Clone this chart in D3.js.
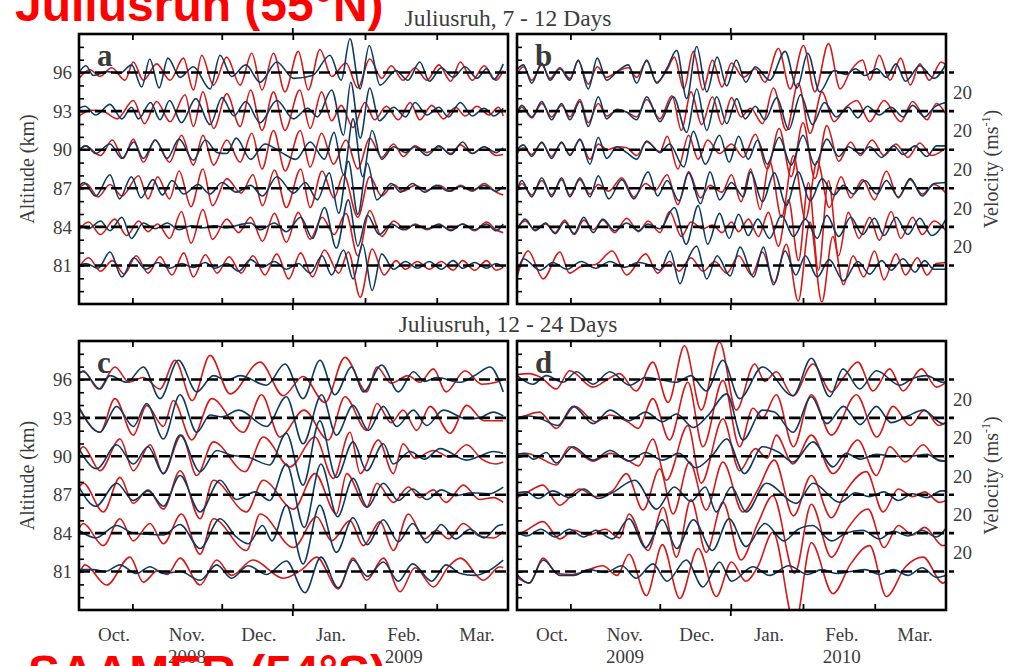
<!DOCTYPE html>
<html>
<head>
<meta charset="utf-8">
<script src="https://cdn.jsdelivr.net/npm/d3@7"></script>
<style>
  body { margin: 0; background: #fff; }
  svg { display: block; }
</style>
</head>
<body>
<svg id="chart" width="1013" height="666"></svg>
<script>
// Altitude levels (km) of the six wind series in every panel
const levels = [96, 93, 90, 87, 84, 81];

// Time axis: day 0 = 1 October, day 180 = end of March
const monthLabels = ["Oct.", "Nov.", "Dec.", "Jan.", "Feb.", "Mar."];
const monthLabelDays = [14.7, 45.3, 75.5, 105.7, 136.3, 167];
const tickDays = [22.4, 59.9, 89.7, 120, 150.1];
const yearTickDay = 89.7;
const yearsWinter1 = ["2008", "2009"];
const yearsWinter2 = ["2009", "2010"];

// Filtered wind perturbations, [day, m/s] at the turning points of each trace.
// Order of the inner arrays follows `levels`.
// (a) Juliusruh 2008/09, 7-12 day band
const aRed = [
  [[0,-6],[4.6,3],[8.8,-4],[13.7,5],[19.3,-8],[22.8,11],[27,-8],[32.6,9],[38.2,-8],[43.8,15],[48,-18],[51.5,18],[56.4,-13],[62,16],[67.6,-13],[72.5,20],[76.8,-18],[81.6,20],[86.4,-20],[92,22],[96.2,-18],[101.1,24],[106,-4],[112,10],[117,-16],[122,14],[127,-6],[131,7],[136,-8],[141,5],[146,-8],[151,8],[156,-9],[160,11],[165,-8],[170,7],[175,-8],[178,2]],
  [[0,-5],[5,1],[10,0],[16,-8],[22.8,11],[27.5,-13],[32.6,10],[38.2,-11],[44.5,17],[48,-16],[52,20],[56.5,-18],[62,18],[67.6,-16],[72,22],[76.8,-20],[81.6,20],[86.4,-20],[92.6,22],[97,-18],[101.8,20],[106,-10],[110,6],[115,-17],[120,9],[124,-9],[129,5],[134,-9],[139,9],[143,-9],[148,6],[153,-8],[158,4],[162,-5],[167,5],[172,-4],[176,4],[178,-5]],
  [[0,-2],[2.5,4],[9,-6],[14,10],[18.5,-9],[22.8,11],[27,-13],[32,10],[38,-13],[43,15],[48,-16],[52,15],[56.5,-16],[62,10],[67.6,-13],[72.5,17],[76.8,-20],[81.6,20],[86.5,-22],[92.8,20],[97,-18],[101.8,17],[106.8,-15],[112,10],[117,-20],[122,12],[127,-8],[132,6],[136,-7],[141,4],[146,-3],[151,3],[156,-4],[160,5],[165,-4],[170,3],[175,-6],[178,-5]],
  [[0,0],[3,5],[8,-9],[13,4],[18,-8],[25,13],[29,-11],[33,12],[38,-11],[42,18],[47,-19],[52,20],[56,-18],[62,10],[68,-5],[73,14],[77,-18],[82,19],[87,-20],[93,20],[97,-20],[102,18],[107,-10],[111,14],[117,-30],[122,12],[127,-8],[132,4],[136,-3],[141,3],[146,-2],[151,3],[156,-3],[160,3],[165,-3],[170,5],[175,-4],[178,-7]],
  [[0,-3],[4,5],[9,-8],[15,8],[20,-9],[25,6],[29,-5],[33,3],[38,-12],[43,16],[47,-17],[52,18],[56,-13],[62,8],[67,-6],[72,10],[77,-15],[82,14],[87,-16],[92,15],[97,-13],[102,10],[107,-8],[112,14],[117,-30],[122,17],[127,-10],[132,6],[137,-3],[141,3],[146,-3],[151,2],[156,-3],[161,3],[166,-4],[171,5],[175,-3],[178,-6]],
  [[0,-2],[4,8],[9,-6],[14,5],[19,-9],[24,10],[29,-8],[34,9],[39,-10],[44,13],[48,-12],[53,11],[58,-8],[63,9],[68,-8],[73,10],[78,-10],[83,12],[88,-14],[93,13],[98,-12],[103,16],[109,-8],[113,14],[118,-33],[123,17],[128,-10],[133,5],[137,-4],[142,4],[147,-4],[152,4],[157,-5],[161,5],[166,-5],[171,5],[175,-5],[178,-2]]
];
const aBlue = [
  [[0,0],[2.9,7],[6,-3],[12,1],[17,-1],[22.1,8],[26.3,-15],[29.7,14],[33.6,-16],[37.3,15],[42.4,-5],[48,6],[55,-17],[59.2,18],[64,-4],[70,8],[76,-10],[83,11],[90,-6],[98,-3],[105.3,18],[110,-8],[113.7,35],[117.9,-17],[121.8,28],[126.3,-13],[133,2],[138,-8],[143,11],[147,-9],[152,5],[157,-5],[162,6],[167,-6],[171,4],[174,-7],[178,9]],
  [[0,3],[2.5,5],[7,-4],[13,7],[18,-8],[22,4],[25,-8],[30,9],[34,-9],[38,11],[43,-12],[49,13],[55,-14],[60,14],[65,-5],[70,10],[76,-12],[83,11],[90,-8],[96,3],[100,-6],[106,22],[111,-25],[114,30],[118,-28],[122,24],[126,-10],[132,4],[137,-6],[141,9],[146,-4],[151,4],[155,-6],[160,9],[165,-5],[170,3],[174,-5],[178,3]],
  [[0,0],[3,4],[7,-4],[13,6],[18,-9],[23,8],[27,-9],[32,10],[37,-9],[42,11],[48,-11],[53,10],[58,-3],[62,-4],[66,12],[72,-10],[78,6],[85,-3],[91,-10],[97,8],[103,-10],[107,18],[111,-26],[115,32],[119,-28],[123,20],[127,-10],[132,3],[137,-3],[141,3],[146,-6],[151,4],[156,-5],[161,8],[165,-4],[170,3],[175,-3],[178,2]],
  [[0,2],[2,6],[7,-8],[13,14],[17,-11],[22,12],[26,-10],[31,9],[35,-7],[39,8],[44,-6],[50,4],[55,-6],[60,6],[66,-4],[72,3],[77,-8],[83,12],[90,-5],[95,6],[100,-12],[105,16],[109,-26],[113,28],[117,-27],[121,26],[125,-12],[131,5],[135,-4],[140,5],[145,-4],[150,3],[155,-3],[160,2],[165,-2],[170,3],[175,-3],[178,2]],
  [[0,2],[4,-2],[9,6],[13,-4],[18,10],[22,-12],[27,4],[32,-2],[37,4],[42,-3],[47,1],[52,-1],[57,1],[62,-1],[67,2],[72,4],[76,-3],[82,4],[87,-5],[93,10],[98,-12],[103,20],[108,-22],[113,28],[117,-20],[121,12],[126,-8],[131,3],[136,-3],[141,2],[146,-2],[151,3],[156,-4],[161,3],[166,-3],[171,3],[175,-4],[178,3]],
  [[0,0],[3,2],[8,-3],[13,14],[18,-12],[23,8],[28,-4],[33,3],[38,-3],[43,2],[48,-2],[53,3],[57,-3],[62,2],[67,-6],[72,6],[77,-2],[82,4],[87,-4],[92,2],[97,-8],[102,10],[106,-10],[111,16],[115,-14],[119,22],[123,-26],[127,12],[132,-4],[137,4],[142,-3],[147,4],[152,-4],[157,5],[161,-3],[166,3],[171,-3],[175,2],[178,-2]]
];

// (b) Juliusruh 2009/10, 7-12 day band
const bRed = [
  [[0,-2],[2.7,6],[6.2,-8],[10.4,8],[13.8,-6],[18,5],[22.2,-6],[25.7,12],[29.9,-12],[33.7,6],[37.6,-5],[42,1],[46.7,5],[50.2,-5],[54.4,12],[58.6,-10],[63,3],[66,16],[70,-17],[74,22],[78,-18],[82,13],[86,-15],[90,10],[95,-5],[100,4],[104,-10],[109.7,25],[114.6,-17],[120.2,28],[125,-20],[130.7,30],[135.6,-17],[140,2],[145,13],[148,-8],[152,18],[156.5,-8],[161,15],[165,-13],[169,9],[173,-8],[178,11],[180,8]],
  [[0,-3],[2,4],[6.2,-7],[10.4,8],[14.5,-6],[18.7,6],[22.2,-6],[26.4,12],[29.9,-12],[34.1,8],[37.6,-5],[42,1],[46,-1],[50.2,-6],[54.4,12],[60,-8],[65,16],[69,-20],[73,20],[77.5,-14],[82,15],[86,-14],[90,14],[94,-6],[98,3],[103,-13],[107.6,24],[113,-20],[118,29],[123,-23],[128,20],[133,-11],[138,4],[142.6,11],[148,-11],[154,11],[161,-11],[166,10],[172,-9],[176,8],[180,-3]],
  [[0,-4],[2.7,2],[6.2,-5],[10.4,7],[14.5,-7],[18.7,7],[22.2,-5],[26.4,10],[30.6,-10],[34.1,6],[38,0],[42,3],[46,2],[50.2,-6],[54.4,8],[60,-2],[63,14],[67.5,-20],[72,15],[76,-10],[80,10],[85,-4],[90,6],[95,-8],[100,16],[105,-20],[110,22],[115,-28],[120,28],[125,-30],[130,25],[135,-12],[140,8],[144,-6],[149,10],[154,-6],[159,6],[164,-8],[169,7],[174,-6],[180,2]],
  [[0,-4],[2,5],[6.2,-7],[10.4,8],[14.5,-7],[18.7,9],[22.2,-7],[26.4,9],[30.6,-6],[34.1,4],[38.5,-3],[44,11],[49,-9],[54,5],[58,-2],[63,14],[67.5,-17],[72,17],[77,-10],[81,3],[86,-4],[90,14],[94,-14],[98,20],[102,-22],[106,28],[111,-30],[116,34],[121,-32],[126,28],[131,-20],[136,12],[140,-10],[145,9],[150,-12],[155,18],[160,-10],[165,9],[170,-6],[175,4],[180,-5]],
  [[0,-2],[3.4,6],[7.6,-3],[12,3],[16,-6],[20,7],[24,-8],[28,7],[32,-3],[36,7],[41,-6],[46,9],[51,-5],[55,6],[60,-6],[64,16],[69,-10],[73,5],[78,-2],[82,2],[86,-6],[90,5],[93,-5],[97.1,8],[101.3,-10],[105.5,15],[109.7,-20],[113.9,28],[118.1,-35],[122.3,46],[126.5,-45],[130.7,48],[134.9,-30],[139,15],[143.5,-12],[148,10],[152,-14],[157,16],[161,-12],[166,10],[170,-8],[175,6],[180,-4]],
  [[0,-12],[4.7,15],[11,-14],[18,14],[22,-8],[27,-1],[33,1],[40,15],[46,-10],[54,12],[59,-8],[64,4],[68,-6],[73,8],[78,-6],[83,4],[88,-8],[93,10],[98.5,-10],[103,14],[108,-18],[113,22],[118,-37],[122.9,45],[127.9,-38],[132.5,30],[137,-20],[141,10],[145.5,-12],[150,15],[154,-15],[159,12],[163,-10],[168,8],[172,-10],[176,2],[180,3]]
];
const bBlue = [
  [[0,3],[2.7,8],[6.2,-11],[10.4,10],[13.8,-8],[18,4],[22.2,-8],[25.7,13],[29.9,-17],[33.7,15],[37.6,-8],[42,1],[46.7,8],[50.2,-11],[54.4,13],[58.6,-11],[63,5],[67,23],[71.2,-27],[75.4,27],[79.6,-20],[84,16],[88,-14],[92,13],[96,-10],[100,6],[106,-8],[112.5,22],[117.5,-16],[122,20],[127,-20],[133,2],[138,-2],[142,4],[146,-3],[151,4],[155,-5],[159,9],[163,-9],[169,7],[175,-6],[180,9]],
  [[0,-2],[2,6],[6.2,-6],[10.4,10],[14.5,-9],[18.7,8],[22.2,-9],[26.4,10],[29.9,-16],[34.1,15],[37.6,-8],[42,2],[46,-1],[50.2,-9],[54.4,15],[60,-11],[65.6,15],[71.2,-22],[75.4,23],[79.6,-20],[83.8,15],[88,-13],[92.2,13],[95.7,-8],[100,5],[104,-9],[109,14],[114,-19],[119,17],[124,-14],[129,9],[134,-6],[139,4],[143,-7],[147,5],[152,-4],[157,4],[162,-6],[166,6],[171,-6],[175,4],[180,9]],
  [[0,0],[2.7,5],[6.2,-7],[10.4,8],[14.5,-9],[18.7,8],[22.2,-6],[26.4,11],[30.6,-15],[34.1,13],[37.6,-9],[42,3],[46,-3],[50.2,-10],[54.4,9],[60,-3],[64,6],[70,-18],[74,19],[79,-15],[85,15],[89,-13],[93,14],[97,-10],[101,10],[105,-15],[110,13],[115,-16],[120,15],[125,-16],[130,11],[135,-7],[139,3],[144,-4],[148,3],[153,-8],[158,4],[162,-5],[167,4],[172,-7],[176,4],[180,4]],
  [[0,-2],[2,8],[6.2,-9],[10.4,11],[14.5,-9],[18.7,11],[22.2,-9],[26.4,11],[30.6,-9],[34.1,13],[38.5,-11],[44,9],[49,-11],[55,17],[59,-8],[63,8],[68,-13],[72,16],[77,-16],[81,17],[85,-12],[90,6],[95,-9],[98,17],[103,-14],[108,16],[113,-18],[118,17],[123,-13],[128,10],[133,-7],[137,3],[141,-6],[146,8],[151,-6],[155,8],[160,-9],[165,10],[170,-8],[175,5],[180,6]],
  [[0,-3],[3.4,8],[7.6,-4],[12,4],[16,-7],[20,5],[24,-7],[28,10],[32,-6],[36,8],[41,-4],[46,4],[51,-4],[55,3],[60,-2],[66,20],[71,-18],[76,22],[80,-18],[85,14],[89,-12],[93,13],[97,-9],[101,8],[106,-12],[111,12],[116,-10],[121,8],[126,-12],[130,12],[135,-10],[140,10],[145,-8],[150,9],[154,-9],[159,10],[164,-8],[169,9],[174,-9],[180,8]],
  [[0,-8],[2.7,7],[9.7,-5],[15,3],[21,-4],[27,4],[33,-3],[39,4],[45,-2],[51,3],[56,0],[60,-5],[64.2,15],[68.4,-19],[72,8],[75.4,20],[79.6,-14],[84,10],[89.4,-11],[93.6,19],[99.2,-12],[103.4,19],[107.6,-20],[112.5,15],[117,-10],[121,10],[126,-12],[131,6],[137,-16],[143,4],[148,-9],[153,5],[157,-5],[162,7],[167,-7],[171,5],[175,-4],[180,-4]]
];

// (c) Juliusruh 2008/09, 12-24 day band
const cRed = [
  [[0,6],[1.8,9],[8.1,-10],[15.1,13],[21,-3],[27,2],[34,-10],[40.3,20],[47.5,-22],[55,25],[63.4,-15],[76,18],[85.7,-17],[94,3],[103.2,-24],[111.6,23],[120.7,-13],[125,13],[131,-4],[138,4],[143,-3],[148.7,11],[154,-13],[162,9],[169,-5],[175,-3],[178,0]],
  [[0,10],[8.8,-15],[15.1,20],[22.8,-18],[28.4,13],[35.4,-9],[39.6,18],[47.3,-23],[55.7,20],[69,-15],[76.6,24],[84.3,-20],[94.4,8],[104.6,-23],[111.6,22],[120.7,-13],[125,15],[131,-5],[136,8],[141.7,-13],[147.3,12],[155.7,-16],[162.7,13],[170,-3],[178,-3]],
  [[0,5],[1.8,10],[8.8,-15],[17.2,18],[22.8,-15],[29.8,12],[35.4,-18],[43,22],[49.4,-20],[56.4,15],[69.7,-16],[77.3,20],[88.5,-11],[99,20],[106.7,-23],[113.7,25],[118,-18],[125.6,17],[131.9,-18],[136,13],[141,-2],[148.7,6],[155.7,-1],[162.7,12],[169,-3],[175,-8],[178,-6]],
  [[0,8],[1.8,12],[10.2,-18],[17.2,18],[22.8,-9],[29,5],[35.4,-15],[42.4,25],[50.8,-25],[56.4,15],[70.3,-18],[77.3,15],[90,-15],[99,22],[108,-20],[112.3,22],[120.7,-13],[125,12],[132,-8],[138.2,8],[143,-3],[148.7,5],[154,-8],[161.3,10],[168,-5],[174,-3],[178,-8]],
  [[0,5],[1.8,10],[10.2,-13],[17.2,15],[22.8,-8],[29.8,10],[35.4,-11],[43,20],[50.8,-22],[56.4,15],[70.3,-18],[76,20],[90,-15],[99.7,17],[106,-8],[113.7,13],[119.3,-13],[126.3,12],[131.9,-18],[138.2,20],[145,-6],[150,3],[155,-6],[161.3,10],[168,-3],[174,-5],[178,2]],
  [[0,-3],[2.5,7],[11.6,-14],[21.4,15],[27,-11],[33,1],[37,-3],[42.4,14],[50.8,-14],[57.8,12],[64,-4],[73,12],[85.7,-7],[94,3],[99.7,15],[108.8,-18],[115,14],[120.7,-9],[127.7,14],[134.7,-21],[141,4],[148.7,-16],[155,5],[160,14],[169.7,-9],[176.6,5],[178,4]]
];
const cBlue = [
  [[0,7],[1.8,8],[8.8,-10],[13,4],[20,-3],[27,13],[34,-20],[41.7,20],[49.4,-13],[56.4,4],[62,-1],[67.6,4],[78.7,-6],[86.4,16],[94,-20],[101.1,20],[107.4,-16],[114.4,13],[119.3,-13],[127,15],[134,-13],[140.3,8],[145,-2],[150,2],[160,-3],[166,4],[172.5,13],[178,-13]],
  [[0,11],[8.8,-15],[15.8,12],[22.8,-9],[28.4,15],[35.4,-22],[42.4,24],[49.4,-15],[55,3],[60,1],[67,8],[78.7,-9],[87,22],[94,-27],[101.8,24],[108,-18],[115,13],[121.4,-13],[127.7,12],[133.3,-9],[140.3,8],[145.9,-8],[152.9,8],[162.7,-1],[168,0],[173.8,6],[178,2]],
  [[0,8],[7.4,-13],[15.8,12],[22.8,-8],[29,10],[35.4,-18],[42.4,22],[50.8,-16],[57.8,6],[64,1],[71,-1],[80,-9],[87,24],[94,-30],[101,37],[108,-22],[115,15],[120.7,-15],[127.7,13],[131.9,-8],[138.9,5],[145,-3],[151.5,8],[162.7,-4],[168,0],[173.8,5],[178,3]],
  [[0,8],[7,-12],[15.8,12],[22.8,-6],[29,4],[35.4,-12],[42.4,20],[50.8,-18],[59.2,15],[66,-5],[74,3],[80,-6],[87,32],[94.5,-34],[101.5,32],[108.5,-23],[115,17],[121,-13],[127.7,12],[134,-6],[140,6],[146,-5],[152,5],[158,-1],[165,2],[172,1],[178,8]],
  [[0,3],[7,-5],[15.8,8],[22.8,0],[29,-1],[35.4,-2],[42.4,9],[50.8,-16],[59.2,15],[66,-4],[71,-11],[77,8],[81,-8],[87,29],[94,-32],[101,29],[108,-20],[115,16],[121,-12],[127.7,14],[134,-9],[140,10],[146,-10],[152,9],[158,-6],[164,4],[170,-5],[176,8],[178,9]],
  [[0,2],[6,2],[11,0],[17.2,7],[24,-2],[29.8,5],[35.4,-2],[42.4,0],[50.8,-9],[57.8,7],[64,-7],[71,6],[78.7,-3],[87,11],[94.8,-22],[101.5,15],[108.8,-17],[115,12],[121,-5],[127.7,10],[134,-10],[140,8],[148,-10],[154,7],[160,-2],[166,-4],[172,1],[178,12]]
];

// (d) Juliusruh 2009/10, 12-24 day band
const dRed = [
  [[0,5],[5,6],[10,2],[16.5,-10],[22.1,9],[31.9,-8],[38,0],[43,6],[50,-12],[57,18],[63.4,-24],[70.3,35],[77.3,-32],[85,39],[92,-32],[99.7,16],[104,-2],[108.8,8],[115.8,-17],[124.2,16],[131.9,-13],[137,2],[143,18],[149.4,-12],[156.4,11],[162,-12],[169.7,11],[176,-8],[180,-3]],
  [[0,0],[3,2],[9.5,6],[16.5,-11],[24.2,12],[33,-4],[39,3],[47,-5],[50.8,-11],[57,20],[64,-23],[71.7,37],[78,-30],[86.4,39],[93.4,-30],[99,10],[103,0],[108.8,24],[116,-30],[123.5,24],[131.9,-18],[142.4,24],[151,-20],[157.8,12],[165,-8],[171,8],[177,-8],[180,-5]],
  [[0,-2],[4,3],[9,-1],[16.5,-9],[22.1,10],[31.9,-5],[39,3],[47,-5],[51,-10],[57,18],[62.7,-25],[71.7,32],[77.3,-28],[86.4,39],[93.4,-15],[100,8],[105,-2],[108.8,22],[115.8,-8],[123.5,22],[132.6,-18],[143,17],[150.8,-20],[156.4,10],[163,-6],[170.4,12],[176,-3],[180,-5]],
  [[0,-3],[4,2],[10.9,10],[17.9,-11],[26.3,6],[33,-2],[40,4],[45.9,22],[52.9,-16],[59.9,27],[65.5,-20],[72.4,34],[79.4,-16],[86.4,34],[94.8,-18],[101,5],[108,36],[116,-22],[123.5,20],[131.9,-24],[138,4],[146.6,24],[153.6,-18],[160,6],[166,-2],[171,3],[177.3,-8],[180,-6]],
  [[0,-2],[4,3],[10.9,12],[17.9,-6],[24,3],[30,-2],[37,4],[43,-5],[47,20],[55,-18],[61.3,27],[66.9,-25],[73,35],[79.4,-20],[86.4,32],[94,-28],[101,10],[107.4,39],[116.5,-42],[123.5,30],[131.9,-25],[139,6],[147.3,25],[154,-15],[160,8],[166,-2],[171,6],[178.7,-13],[180,-12]],
  [[0,-6],[5.3,-12],[10.9,14],[17,-2],[23,-3],[30,2],[36,6],[42,-4],[47,18],[54.3,-25],[61,28],[68.3,-28],[76,24],[83.6,-26],[90,10],[96,-10],[101,5],[107.4,41],[116.6,-55],[123.5,30],[132.6,-23],[140,8],[148,27],[155,-26],[163,5],[170.4,15],[178.7,-12],[180,-10]]
];
const dBlue = [
  [[0,4],[6.7,-5],[12.3,4],[19.3,-3],[25,8],[31.9,-5],[39,8],[47.3,-6],[54,2],[60,0],[66.9,-3],[73,4],[79.4,-12],[86.4,20],[93.4,-20],[103,13],[115.8,-17],[123.5,22],[131.2,-18],[136.8,11],[143.8,-10],[150.8,9],[160.6,-6],[166,1],[171.7,4],[178.7,-3],[180,-2]],
  [[0,0],[5,2],[10,-1],[17.2,-8],[23.5,12],[32,-6],[39,8],[47,-3],[54,6],[61,-4],[67,4],[74,-10],[80,2],[88,25],[94.8,-23],[103,8],[108,6],[115.8,-15],[123.5,22],[130,-6],[137,12],[144,-7],[150.8,12],[157,-5],[164,2],[170.4,8],[178.7,-6],[180,-5]],
  [[0,2],[3,3],[7,-3],[12.3,4],[16.5,-7],[23.5,10],[31.9,-4],[39,6],[47,-5],[54,4],[61,-4],[68,3],[75,-12],[82,1],[88,18],[95.5,-18],[103,10],[110,4],[115.8,-6],[124.2,15],[132.6,-11],[138,3],[144,-3],[150.8,2],[158,0],[165,0],[172,2],[178,-5],[180,-5]],
  [[0,2],[4,3],[9,-4],[15,4],[22,-3],[28,6],[34,-4],[40,2],[49.4,15],[58.5,-15],[66,8],[73,-7],[79,8],[83.6,-18],[90,8],[96.2,-18],[104.6,12],[117.2,-9],[124.2,12],[135.4,-8],[142,2],[148,-2],[154,3],[160,-6],[166,1],[172,-3],[178,4],[180,4]],
  [[0,1],[4,-3],[10,4],[16,-4],[22,4],[28,-4],[33,3],[40,-6],[47,15],[54,-15],[61,14],[67,-16],[74,14],[82,-18],[89,15],[96,-14],[104,10],[112,-8],[118,4],[124,8],[132,-8],[138,0],[145,3],[152,-6],[158,2],[164,-3],[170,3],[176,-4],[180,5]],
  [[0,-3],[5,-12],[11,12],[18,-4],[24,-4],[30,2],[37,-1],[44,6],[50,-7],[57,8],[63,-10],[71,12],[78,-16],[85,10],[90,-10],[99,5],[106,-4],[114,6],[122,-3],[128,2],[134,-2],[140,0],[146,2],[152,-3],[158,2],[164,-4],[170,4],[176,-6],[180,-4]]
];

// ---------------------------------------------------------------- drawing
const SERIF = '"Liberation Serif", "Times New Roman", Times, serif';
const SANS = '"Liberation Sans", Arial, Helvetica, sans-serif';
const RED = "#d41a1a";
const BLUE = "#0f3b63";
const TEXT = "#3c3c3c";
const KM_PER_MS = 1.5 / 20;   // 20 m/s drawn as 1.5 km of altitude offset

const svg = d3.select("#chart");

const panels = [
  { key: "a", x0: 79,  x1: 508, y0: 34,  y1: 304, red: aRed, blue: aBlue, leftLabels: true,  velocity: false, months: null },
  { key: "b", x0: 517, x1: 946, y0: 34,  y1: 304, red: bRed, blue: bBlue, leftLabels: false, velocity: true,  months: null },
  { key: "c", x0: 79,  x1: 508, y0: 341, y1: 610, red: cRed, blue: cBlue, leftLabels: true,  velocity: false, months: yearsWinter1 },
  { key: "d", x0: 517, x1: 946, y0: 341, y1: 610, red: dRed, blue: dBlue, leftLabels: false, velocity: true,  months: yearsWinter2 }
];

panels.forEach(p => {
  const x = d3.scaleLinear().domain([0, 180]).range([p.x0, p.x1]);
  const y = d3.scaleLinear().domain([78, 99]).range([p.y1, p.y0]);
  const g = svg.append("g");

  const clipId = "clip-" + p.key;
  svg.append("clipPath").attr("id", clipId)
    .append("rect").attr("x", p.x0).attr("y", p.y0)
    .attr("width", p.x1 - p.x0).attr("height", p.y1 - p.y0);

  // wind traces
  const traces = g.append("g").attr("clip-path", `url(#${clipId})`);
  const drawSeries = (series, color) => {
    series.forEach((pts, i) => {
      const lev = levels[i];
      const line = d3.line()
        .x(d => x(d[0]))
        .y(d => y(lev + d[1] * KM_PER_MS))
        .curve(d3.curveMonotoneX);
      traces.append("path").datum(pts)
        .attr("d", line)
        .attr("fill", "none")
        .attr("stroke", color)
        .attr("stroke-width", 1.6)
        .attr("stroke-linejoin", "round");
    });
  };
  drawSeries(p.red, RED);
  drawSeries(p.blue, BLUE);

  // zero lines of each level
  levels.forEach(lev => {
    g.append("line")
      .attr("x1", p.x0).attr("x2", p.velocity ? p.x1 + 8 : p.x1)
      .attr("y1", y(lev)).attr("y2", y(lev))
      .attr("stroke", "#000").attr("stroke-width", 2.6)
      .attr("stroke-dasharray", "11,5");
  });

  // left altitude axis (minor ticks every km, labels every 3 km)
  const yAxis = d3.axisLeft(y)
    .tickValues(d3.range(79, 99))
    .tickSize(-5)
    .tickPadding(7)
    .tickFormat(d => (p.leftLabels && levels.includes(d)) ? d : "");
  const ya = g.append("g").attr("transform", `translate(${p.x0},0)`).call(yAxis);
  ya.select(".domain").remove();
  ya.selectAll(".tick line").attr("stroke", "#000").attr("stroke-width", 1.6);
  ya.selectAll(".tick text")
    .attr("font-family", SERIF).attr("font-size", 19).attr("fill", TEXT)
    .attr("dy", "0.33em");

  // time ticks, top and bottom, pointing inward
  const xBottom = d3.axisBottom(x).tickValues(tickDays).tickSize(-6).tickFormat("");
  const xTop = d3.axisTop(x).tickValues(tickDays).tickSize(-6).tickFormat("");
  [[xBottom, p.y1], [xTop, p.y0]].forEach(([ax, yy]) => {
    const s = g.append("g").attr("transform", `translate(0,${yy})`).call(ax);
    s.select(".domain").remove();
    s.selectAll(".tick line").attr("stroke", "#000").attr("stroke-width", 1.8);
  });
  // the turn of the year also gets an outward tick
  g.append("line").attr("x1", x(yearTickDay)).attr("x2", x(yearTickDay))
    .attr("y1", p.y1).attr("y2", p.y1 + 6).attr("stroke", "#000").attr("stroke-width", 1.8);
  g.append("line").attr("x1", x(yearTickDay)).attr("x2", x(yearTickDay))
    .attr("y1", p.y0).attr("y2", p.y0 - 6).attr("stroke", "#000").attr("stroke-width", 1.8);

  // frame
  g.append("rect")
    .attr("x", p.x0).attr("y", p.y0)
    .attr("width", p.x1 - p.x0).attr("height", p.y1 - p.y0)
    .attr("fill", "none").attr("stroke", "#000").attr("stroke-width", 2.6);

  // panel letter
  g.append("text").text(p.key)
    .attr("x", p.x0 + 18).attr("y", p.y0 + 32)
    .attr("font-family", SERIF).attr("font-weight", "bold")
    .attr("font-size", 31).attr("fill", "#3a3a3a");

  // velocity scale on the right
  if (p.velocity) {
    levels.slice(1).forEach(lev => {
      g.append("text").text("20")
        .attr("x", p.x1 + 7).attr("y", y(lev + 20 * KM_PER_MS) + 7)
        .attr("font-family", SERIF).attr("font-size", 19).attr("fill", TEXT);
    });
    const vy = (y(levels[0]) + y(levels[levels.length - 1])) / 2;
    const vt = g.append("text")
      .attr("transform", `translate(${p.x1 + 52},${vy}) rotate(-90)`)
      .attr("text-anchor", "middle")
      .attr("font-family", SERIF).attr("font-size", 20).attr("fill", TEXT);
    vt.append("tspan").text("Velocity (ms");
    vt.append("tspan").text("-1").attr("font-size", 12).attr("dy", -8);
    vt.append("tspan").text(")").attr("dy", 8);
  } else {
    const ay = (y(levels[0]) + y(levels[levels.length - 1])) / 2;
    g.append("text").text("Altitude (km)")
      .attr("transform", `translate(${p.x0 - 45},${ay}) rotate(-90)`)
      .attr("text-anchor", "middle")
      .attr("font-family", SERIF).attr("font-size", 20).attr("fill", TEXT);
  }

  // month names and years under the lower panels
  if (p.months) {
    monthLabels.forEach((m, i) => {
      g.append("text").text(m)
        .attr("x", x(monthLabelDays[i])).attr("y", p.y1 + 31)
        .attr("text-anchor", "middle")
        .attr("font-family", SERIF).attr("font-size", 19).attr("fill", TEXT);
    });
    [[1, p.months[0]], [4, p.months[1]]].forEach(([i, yr]) => {
      g.append("text").text(yr)
        .attr("x", x(monthLabelDays[i])).attr("y", p.y1 + 53)
        .attr("text-anchor", "middle")
        .attr("font-family", SERIF).attr("font-size", 19).attr("fill", TEXT);
    });
  }
});

// band titles
svg.append("text").text("Juliusruh, 7 - 12 Days")
  .attr("x", 508).attr("y", 26).attr("text-anchor", "middle")
  .attr("font-family", SERIF).attr("font-size", 23.5).attr("fill", TEXT);
svg.append("text").text("Juliusruh, 12 - 24 Days")
  .attr("x", 508).attr("y", 332).attr("text-anchor", "middle")
  .attr("font-family", SERIF).attr("font-size", 23.5).attr("fill", TEXT);

// station headings
svg.append("text").text("Juliusruh (55°N)")
  .attr("x", 15).attr("y", 21)
  .attr("font-family", SANS).attr("font-weight", "bold")
  .attr("font-size", 48).attr("fill", "#ff0000");
svg.append("text").text("SAAMER (54°S)")
  .attr("x", 28).attr("y", 689)
  .attr("font-family", SANS).attr("font-weight", "bold")
  .attr("font-size", 48).attr("fill", "#ff0000");
</script>
</body>
</html>
